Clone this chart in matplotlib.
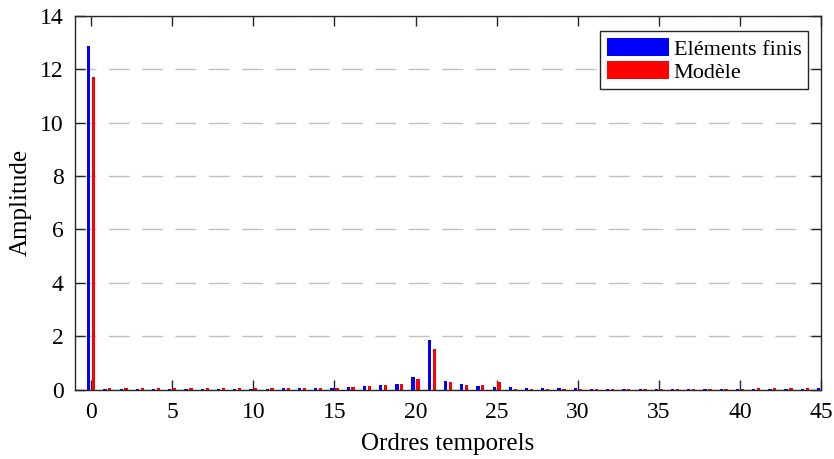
import matplotlib.pyplot as plt
import numpy as np

plt.rcParams["font.family"] = ["Liberation Serif", "DejaVu Serif"]

# Ordres temporels 0..45
orders = np.arange(0, 46)

# Amplitudes - elements finis
fem_amp = [12.87, 0.01, 0.03, 0.02, 0.02, 0.02, 0.02, 0.02, 0.02, 0.02,
           0.03, 0.03, 0.04, 0.04, 0.05, 0.06, 0.10, 0.13, 0.16, 0.22,
           0.47, 1.86, 0.32, 0.20, 0.15, 0.11, 0.08, 0.06, 0.05, 0.05,
           0.04, 0.03, 0.03, 0.03, 0.02, 0.02, 0.02, 0.02, 0.02, 0.02,
           0.02, 0.02, 0.02, 0.02, 0.02, 0.05]

# Amplitudes - modele
model_amp = [11.71, 0.04, 0.04, 0.04, 0.05, 0.04, 0.05, 0.05, 0.05, 0.05,
             0.05, 0.05, 0.06, 0.06, 0.06, 0.07, 0.10, 0.14, 0.16, 0.22,
             0.41, 1.52, 0.28, 0.18, 0.17, 0.30, 0.01, 0.01, 0.02, 0.01,
             0.02, 0.01, 0.02, 0.02, 0.02, 0.02, 0.02, 0.02, 0.03, 0.03,
             0.03, 0.04, 0.04, 0.04, 0.04, 0.00]

labels = ["Eléments finis", "Modèle"]
xticks = np.arange(0, 46, 5)
yticks = np.arange(0, 15, 2)

fig = plt.figure(figsize=(8.34, 4.59), dpi=100)
ax = fig.add_axes([0.0899, 0.1514, 0.8945, 0.8137])

ax.bar(orders - 0.15, fem_amp, width=0.2, color="#0000ff", linewidth=0, label=labels[0], zorder=3)
ax.bar(orders + 0.15, model_amp, width=0.2, color="#ff0000", linewidth=0, label=labels[1], zorder=3)

ax.set_xlim(-1, 45)
ax.set_ylim(0, 14)
ax.set_xticks(xticks)
ax.set_yticks(yticks)

# dashed horizontal grid only
ax.yaxis.grid(True, color="#c0c0c0", linestyle=(0, (15, 9)), linewidth=1.0, zorder=0)
ax.xaxis.grid(False)

for s in ax.spines.values():
    s.set_color("#262626")
    s.set_linewidth(1.0)
    s.set_zorder(4)

ax.tick_params(direction="in", length=7, width=1.0, color="#262626",
               top=True, right=True, labelsize=17)
ax.tick_params(axis="x", pad=9)
ax.tick_params(axis="y", pad=8)

ax.set_xlabel("Ordres temporels", fontsize=18, labelpad=7)
ax.set_ylabel("Amplitude", fontsize=18, labelpad=6)

leg = ax.legend(loc="upper right", bbox_to_anchor=(0.9826, 0.96), fontsize=16,
                handlelength=2.8, handleheight=0.9, labelspacing=0.05,
                borderpad=0.3, handletextpad=0.2, borderaxespad=0,
                fancybox=False, framealpha=1, edgecolor="#262626")
leg.get_frame().set_linewidth(1.0)

plt.savefig("out.png", dpi=100)
plt.close()
